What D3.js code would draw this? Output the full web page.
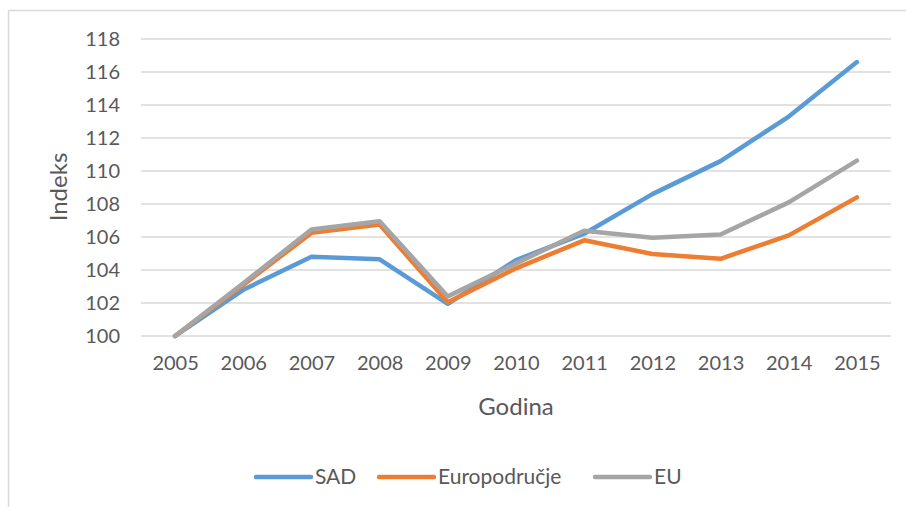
<!DOCTYPE html>
<html>
<head>
<meta charset="utf-8">
<script src="https://cdn.jsdelivr.net/npm/d3@7"></script>
<style>
  body { margin: 0; background: #fff; }
  svg { display: block; font-family: Lato, "Noto Sans", sans-serif; }
</style>
</head>
<body>
<div id="chart"></div>
<script>
var years = ['2005', '2006', '2007', '2008', '2009', '2010', '2011', '2012', '2013', '2014', '2015'];
var sad = [100, 102.8, 104.8, 104.65, 101.95, 104.6, 106.2, 108.6, 110.6, 113.3, 116.6];
var europodrucje = [100, 103.1, 106.25, 106.75, 102.05, 104.1, 105.8, 104.97, 104.68, 106.1, 108.4];
var eu = [100, 103.2, 106.45, 106.95, 102.4, 104.4, 106.38, 105.95, 106.15, 108.1, 110.63];
var yTicks = [100, 102, 104, 106, 108, 110, 112, 114, 116, 118];

var series = [
    { name: 'SAD', values: sad, color: '#5B9BD5' },
    { name: 'Europodručje', values: europodrucje, color: '#ED7D31' },
    { name: 'EU', values: eu, color: '#A5A5A5' }
];

var width = 906, height = 507;
var textColor = '#595959';

var svg = d3.select('#chart').append('svg')
    .attr('width', width)
    .attr('height', height);

// chart area border (right and bottom edges fall outside the window)
svg.append('rect')
    .attr('x', 8.5).attr('y', 10.5)
    .attr('width', 1000).attr('height', 1000)
    .attr('fill', 'none')
    .attr('stroke', '#D9D9D9')
    .attr('stroke-width', 1.5);

var x = d3.scalePoint()
    .domain(years)
    .range([141, 891])
    .padding(0.5);

var y = d3.scaleLinear()
    .domain([100, 118])
    .range([336, 39]);

// gridlines
svg.append('g')
    .attr('class', 'grid')
    .selectAll('line')
    .data(yTicks)
    .enter().append('line')
    .attr('x1', 141).attr('x2', 891)
    .attr('y1', d => y(d)).attr('y2', d => y(d))
    .attr('stroke', '#D9D9D9')
    .attr('stroke-width', 1.3);

// y axis labels
var yAxis = svg.append('g')
    .attr('transform', 'translate(120,0)')
    .call(d3.axisLeft(y).tickValues(yTicks).tickSize(0).tickPadding(0));
yAxis.select('.domain').remove();
yAxis.selectAll('text')
    .attr('fill', textColor)
    .style('font-size', '20px')
    .style('font-family', 'Lato, "Noto Sans", sans-serif');

// x axis labels
var xAxis = svg.append('g')
    .attr('transform', 'translate(0,356)')
    .call(d3.axisBottom(x).tickSize(0).tickPadding(0));
xAxis.select('.domain').remove();
xAxis.selectAll('text')
    .attr('fill', textColor)
    .style('font-size', '20px')
    .style('font-family', 'Lato, "Noto Sans", sans-serif');

// axis titles
svg.append('text')
    .attr('x', 516).attr('y', 415)
    .attr('text-anchor', 'middle')
    .attr('fill', textColor)
    .style('font-size', '24px')
    .text('Godina');

svg.append('text')
    .attr('transform', 'translate(67,187) rotate(-90)')
    .attr('text-anchor', 'middle')
    .attr('fill', textColor)
    .style('font-size', '24px')
    .text('Indeks');

// lines
var line = d3.line()
    .x((d, i) => x(years[i]))
    .y(d => y(d));

svg.append('g')
    .selectAll('path')
    .data(series)
    .enter().append('path')
    .attr('d', d => line(d.values))
    .attr('fill', 'none')
    .attr('stroke', d => d.color)
    .attr('stroke-width', 4.5)
    .attr('stroke-linecap', 'round')
    .attr('stroke-linejoin', 'round');

// legend
var legendX = [256, 379, 595];
var legend = svg.append('g')
    .selectAll('g')
    .data(series)
    .enter().append('g')
    .attr('transform', (d, i) => 'translate(' + legendX[i] + ',477)');

legend.append('line')
    .attr('x1', 0).attr('x2', 55)
    .attr('stroke', d => d.color)
    .attr('stroke-width', 4.5)
    .attr('stroke-linecap', 'round');

legend.append('text')
    .attr('x', 59).attr('y', 7)
    .attr('fill', textColor)
    .style('font-size', '21px')
    .text(d => d.name);
</script>
</body>
</html>
